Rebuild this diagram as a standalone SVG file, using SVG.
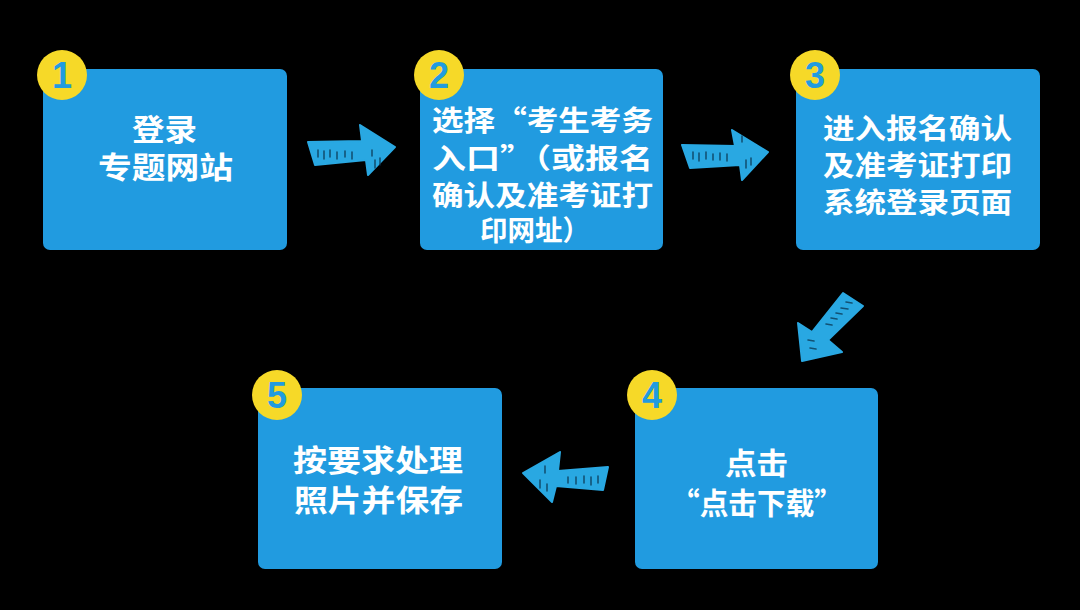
<svg xmlns="http://www.w3.org/2000/svg" width="1080" height="610" viewBox="0 0 1080 610">
<style>
.box{fill:#219be0}
.badge{fill:#f6d928}
.num{font-family:"Liberation Sans","DejaVu Sans",sans-serif;font-weight:bold;font-size:36px;fill:#219be0;text-anchor:middle}
.t{font-family:"Noto Sans CJK SC","Noto Sans",sans-serif;font-weight:bold;fill:#ffffff}
.t30{font-size:30px}
.t28{font-size:28px}
.arrow{fill:#29a8e2;stroke:#29a8e2;stroke-width:2;stroke-linejoin:round}
.hatch{stroke:#0b3550;stroke-width:1.6;stroke-linecap:round;opacity:0.75}
</style>
<rect x="0" y="0" width="1080" height="610" fill="#000000"/>

<g id="connectors">
  <g id="arrow1">
    <polygon class="arrow" points="308,142 362,141 360,125 395,147 368,175 366,160 315,165"/>
    <path class="hatch" d="M318,150v7 M324,151v8 M330,150v7 M337,152v7 M345,151v6 M352,152v7 M372,150v6 M375,160v8 M380,158v7"/>
  </g>
  <g id="arrow2">
    <polygon class="arrow" points="682,145 735,146 732,130 768,152 742,180 740,165 690,168"/>
    <path class="hatch" d="M693,152v7 M699,153v8 M706,152v7 M713,154v6 M720,153v7 M727,154v7 M742,136v6 M746,160v8 M751,158v7"/>
  </g>
  <g id="arrow3">
    <polygon class="arrow" points="843,293 863,306 828,340 842,352 802,361 798,323 812,332"/>
    <path class="hatch" d="M846,302l6,1 M841,308l7,1 M836,313l6,1 M831,318l6,1 M826,324l6,1 M808,340l6,1 M810,348l6,1"/>
  </g>
  <g id="arrow4">
    <polygon class="arrow" points="608,467 558,471 560,452 523,473 552,502 556,486 603,490"/>
    <path class="hatch" d="M598,476v7 M591,477v8 M584,476v7 M576,477v7 M568,477v6 M545,466v7 M540,480v8 M547,484v7"/>
  </g>
</g>

<g id="node1">
  <rect class="box" x="43" y="69" width="244" height="181" rx="7"/>
  <circle class="badge" cx="62" cy="75" r="25"/>
  <text class="num" x="62" y="88">1</text>
  <text class="t t30" x="132" y="140" textLength="65" lengthAdjust="spacingAndGlyphs">登录</text>
  <text class="t t30" x="98" y="178" textLength="135" lengthAdjust="spacingAndGlyphs">专题网站</text>
</g>

<g id="node2">
  <rect class="box" x="420" y="69" width="243" height="181" rx="7"/>
  <circle class="badge" cx="439" cy="75" r="25"/>
  <text class="num" x="439" y="88">2</text>
  <text class="t t28" x="432" y="131" textLength="221" lengthAdjust="spacingAndGlyphs">选择“考生考务</text>
  <text class="t t28" x="432" y="169" textLength="221" lengthAdjust="spacingAndGlyphs">入口”（或报名</text>
  <text class="t t28" x="432" y="206" textLength="221" lengthAdjust="spacingAndGlyphs">确认及准考证打</text>
  <text class="t t28" x="480" y="241" textLength="110" lengthAdjust="spacingAndGlyphs">印网址）</text>
</g>

<g id="node3">
  <rect class="box" x="796" y="69" width="244" height="181" rx="7"/>
  <circle class="badge" cx="815" cy="75" r="25"/>
  <text class="num" x="815" y="88">3</text>
  <text class="t t28" x="823" y="139" textLength="189" lengthAdjust="spacingAndGlyphs">进入报名确认</text>
  <text class="t t28" x="823" y="176" textLength="189" lengthAdjust="spacingAndGlyphs">及准考证打印</text>
  <text class="t t28" x="823" y="213" textLength="189" lengthAdjust="spacingAndGlyphs">系统登录页面</text>
</g>

<g id="node4">
  <rect class="box" x="635" y="388" width="243" height="181" rx="7"/>
  <circle class="badge" cx="652" cy="395" r="25"/>
  <text class="num" x="652" y="408">4</text>
  <text class="t t30" x="725" y="474" textLength="63" lengthAdjust="spacingAndGlyphs">点击</text>
  <text class="t t30" x="671" y="514" textLength="172" lengthAdjust="spacingAndGlyphs">“点击下载”</text>
</g>

<g id="node5">
  <rect class="box" x="258" y="388" width="244" height="181" rx="7"/>
  <circle class="badge" cx="277" cy="395" r="25"/>
  <text class="num" x="277" y="408">5</text>
  <text class="t t30" x="293" y="471" textLength="170" lengthAdjust="spacingAndGlyphs">按要求处理</text>
  <text class="t t30" x="294" y="511" textLength="169" lengthAdjust="spacingAndGlyphs">照片并保存</text>
</g>
</svg>
